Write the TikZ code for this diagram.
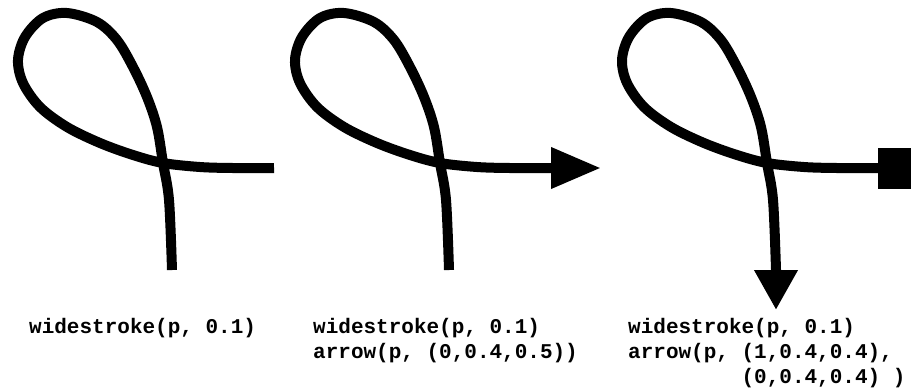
\documentclass[tikz,border=0pt]{standalone}
\usepackage{fontspec}
\setmonofont{Liberation Mono}
\usetikzlibrary{arrows.meta}
\tikzset{
  curl/.style={line width=10bp, black},
  caption/.style={anchor=base west, inner sep=0pt, align=left,
    font=\fontsize{21bp}{25bp}\selectfont\ttfamily\bfseries}
}
% the loop, in bp, y pointing up; #1 is the joining operation (empty or --)
\newcommand{\curlpath}[1]{#1 plot[smooth, tension=0.55] coordinates {
  (172,-270) (169,-200) (163,-163) (157,-127) (147,-97) (133,-67)
  (117,-40) (97,-22) (67,-13) (43,-18) (25,-37) (18,-60) (23,-83)
  (40,-107) (67,-127) (100,-143) (133,-155) (163,-163) (200,-167)
  (233,-168) (274,-168)}}

\begin{document}
\begin{tikzpicture}[x=1bp, y=1bp]
\useasboundingbox (0,0) rectangle (911,-390);
% plain stroke
\draw[curl] \curlpath{};
% arrow at the end
\begin{scope}[xshift=277bp]
\draw[curl, -{Triangle[length=50bp, width=39bp]}] \curlpath{} -- ++(50,0);
\end{scope}
% square at the end, arrow at the start
\begin{scope}[xshift=604bp]
\draw[curl, {Triangle[length=40bp, width=41bp]}-{Square[length=40bp, width=41bp]}]
  (172,-310) \curlpath{--} -- ++(40,0);
\end{scope}
% captions (base anchor sits on the last line)
\node[caption] (label1) at (29,-333) {widestroke(p, 0.1)};
\node[caption] (label2) at (313,-358) {widestroke(p, 0.1)\\arrow(p, (0,0.4,0.5))};
\node[caption] (label3) at (628,-383) {widestroke(p, 0.1)\\arrow(p, (1,0.4,0.4),\\
  \phantom{arrow(p,~}(0,0.4,0.4) )};
\end{tikzpicture}
\end{document}
